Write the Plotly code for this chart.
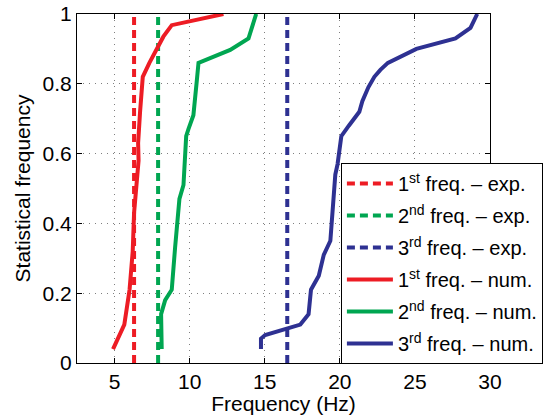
import plotly.graph_objects as go

# Experimental natural frequencies (Hz) for the first three modes
exp_freq = [6.3, 7.9, 16.5]

# Numerical cumulative distributions: frequency (Hz) vs. statistical frequency
f1_num = [4.9, 5.65, 6.0, 6.15, 6.21, 6.3, 6.43, 6.52, 6.6, 6.57, 6.7, 6.88, 7.32, 7.92, 8.25, 8.81, 12.25]
p1_num = [0.04, 0.11, 0.21, 0.29, 0.32, 0.43, 0.52, 0.54, 0.58, 0.63, 0.72, 0.82, 0.86, 0.91, 0.935, 0.968, 1.0]

f2_num = [8.14, 8.1, 8.37, 8.81, 9.03, 9.19, 9.32, 9.59, 9.77, 9.92, 10.25, 10.48, 10.59, 12.7, 13.92, 14.43]
p2_num = [0.04, 0.14, 0.18, 0.21, 0.33, 0.43, 0.47, 0.51, 0.65, 0.67, 0.71, 0.81, 0.86, 0.897, 0.93, 1.0]

f3_num = [14.75, 14.75, 15.03, 17.37, 17.92, 18.08, 18.6, 18.93, 19.37, 19.48, 19.6, 19.7, 19.85, 20.0,
          20.1, 20.6, 21.3, 21.5, 21.9, 22.3, 22.7, 23.2, 25.1, 27.7, 28.7, 29.15]
p3_num = [0.04, 0.07, 0.08, 0.11, 0.14, 0.21, 0.25, 0.31, 0.35, 0.41, 0.47, 0.54, 0.57, 0.61,
          0.65, 0.68, 0.72, 0.75, 0.79, 0.82, 0.84, 0.86, 0.90, 0.93, 0.96, 1.0]

ordinals = ["1<sup>st</sup>", "2<sup>nd</sup>", "3<sup>rd</sup>"]
colors = ["#ED1C24", "#00A651", "#2E3192"]

x_ticks = [5, 10, 15, 20, 25, 30]
y_ticks = [0, 0.2, 0.4, 0.6, 0.8, 1]
y_ticktext = ["0", "0.2", "0.4", "0.6", "0.8", "1"]

FONT = "Liberation Sans, Arial, Helvetica, sans-serif"
AXIS_FONT = dict(size=21, color="black", family=FONT)

fig = go.Figure()

for i, f in enumerate(exp_freq):
    fig.add_trace(go.Scatter(
        x=[f, f], y=[0, 1], mode="lines",
        line=dict(color=colors[i], width=4, dash="8px,5px"),
        name=f"{ordinals[i]} freq. – exp.", legendgroup=f"e{i}",
    ))

for i, (fx, py) in enumerate([(f1_num, p1_num), (f2_num, p2_num), (f3_num, p3_num)]):
    fig.add_trace(go.Scatter(
        x=fx, y=py, mode="lines",
        line=dict(color=colors[i], width=4),
        name=f"{ordinals[i]} freq. – num.", legendgroup=f"n{i}",
    ))

axis_common = dict(
    showline=True, linecolor="black", linewidth=1.2, mirror="ticks",
    ticks="inside", ticklen=5, tickwidth=1, tickcolor="black",
    showgrid=True, gridcolor="#7f7f7f", gridwidth=1, griddash="1px,5px",
    zeroline=False, tickfont=AXIS_FONT,
)

fig.update_xaxes(range=[2.5, 30], tickvals=x_ticks,
                 title=dict(text="Frequency (Hz)", font=AXIS_FONT, standoff=2),
                 **axis_common)
fig.update_yaxes(range=[0, 1], tickvals=y_ticks, ticktext=y_ticktext,
                 title=dict(text="Statistical frequency", font=AXIS_FONT, standoff=6),
                 **axis_common)

fig.update_layout(
    width=544, height=415,
    margin=dict(l=77, r=54, t=14, b=52, autoexpand=False),
    paper_bgcolor="white", plot_bgcolor="white",
    font=dict(family=FONT, color="black"),
    legend=dict(
        x=0.639, y=0.573, xanchor="left", yanchor="top",
        bgcolor="white", bordercolor="black", borderwidth=1,
        font=dict(size=20, color="black", family=FONT),
        tracegroupgap=3, itemwidth=46,
    ),
    showlegend=True,
)

fig.write_html("out.html")
